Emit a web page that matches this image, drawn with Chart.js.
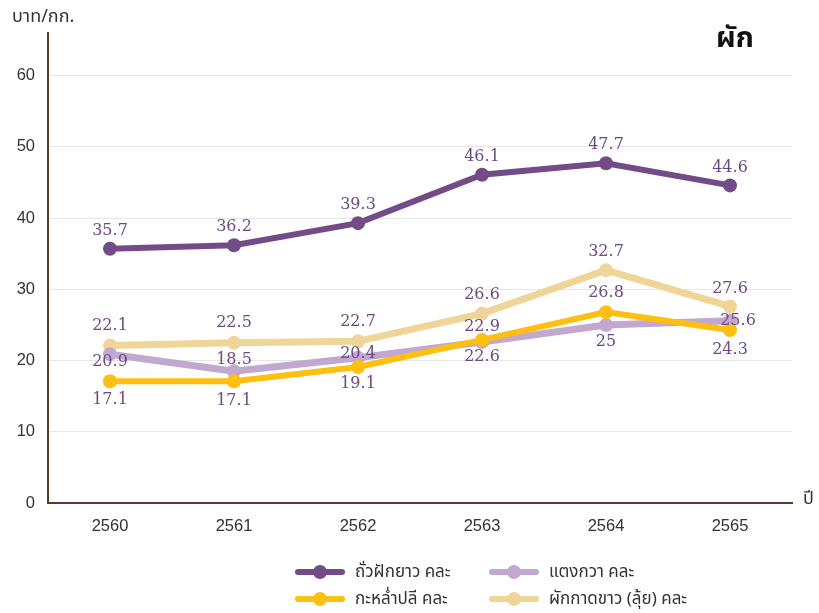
<!DOCTYPE html>
<html lang="th">
<head>
<meta charset="utf-8">
<title>ราคาผัก</title>
<script src="https://cdn.jsdelivr.net/npm/chart.js@4.4.1/dist/chart.umd.min.js"></script>
<style>
  html, body { margin: 0; padding: 0; background: #fff; }
  #wrap {
    position: relative;
    width: 819px;
    height: 613px;
    font-family: "Noto Sans Thai", "Noto Sans", sans-serif;
    color: #333;
  }
  #chart { position: absolute; left: 0; top: 0; }
  .txt { position: absolute; white-space: nowrap; line-height: 1; }
  #unit { left: 12px; top: 8px; font-size: 18px; }
  #title { left: 716px; top: 24px; font-size: 29px; font-weight: bold; color: #111; }
  #xname { left: 803px; top: 490px; font-size: 18px; }
  .item {
    position: absolute;
    display: flex;
    align-items: center;
    height: 20px;
    font-size: 17px;
    white-space: nowrap;
  }
  .swatch { position: relative; width: 50px; height: 14px; margin-right: 10px; }
  .swatch .bar {
    position: absolute; left: 0; top: 4px; width: 50px; height: 6px;
    border-radius: 3px;
  }
  .swatch .dot {
    position: absolute; left: 18px; top: 0; width: 14px; height: 14px;
    border-radius: 50%;
  }
</style>
</head>
<body>
<div id="wrap">
  <canvas id="chart" width="819" height="613"></canvas>
  <div class="txt" id="unit">บาท/กก.</div>
  <div class="txt" id="title">ผัก</div>
  <div class="txt" id="xname">ปี</div>
  <div id="legend"></div>
</div>

<script>
// ราคาผักเฉลี่ยรายปี (บาท/กก.)
const years = ['2560', '2561', '2562', '2563', '2564', '2565'];
const yardLongBean = [35.7, 36.2, 39.3, 46.1, 47.7, 44.6];
const cucumber = [20.9, 18.5, 20.4, 22.6, 25, 25.6];
const cabbage = [17.1, 17.1, 19.1, 22.9, 26.8, 24.3];
const chineseCabbage = [22.1, 22.5, 22.7, 26.6, 32.7, 27.6];
const yTicks = [0, 10, 20, 30, 40, 50, 60];

const LABEL_COLOR = '#6c4a84';
const AXIS_COLOR = '#5b3a2e';

function lineSet(label, data, color, width, labelDy, labelDx) {
    return {
        label: label,
        data: data,
        borderColor: color,
        backgroundColor: color,
        borderWidth: width,
        pointRadius: 7,
        pointHoverRadius: 7,
        pointBorderWidth: 0,
        pointBackgroundColor: color,
        tension: 0,
        labelDy: labelDy,
        labelDx: labelDx || [0, 0, 0, 0, 0, 0]
    };
}

// dataset 0 is drawn on top
const datasets = [
    lineSet('ถั่วฝักยาว คละ', yardLongBean, '#734b87', 6, [-18, -18, -18, -18, -18, -18]),
    lineSet('กะหล่ำปลี คละ', cabbage, '#fcbf12', 6, [19, 20, 17, -13, -19, 20]),
    lineSet('แตงกวา คละ', cucumber, '#c2a8cf', 7, [8, -11, -4, 15, 17, 0], [0, 0, 0, 0, 0, 8]),
    lineSet('ผักกาดขาว (ลุ้ย) คละ', chineseCabbage, '#efd597', 7, [-20, -20, -20, -19, -18, -18])
];

// value text next to every point
const valueLabels = {
    id: 'valueLabels',
    afterDatasetsDraw(chart) {
        const ctx = chart.ctx;
        ctx.save();
        ctx.font = '16px "DejaVu Serif", serif';
        ctx.fillStyle = LABEL_COLOR;
        ctx.textAlign = 'center';
        ctx.textBaseline = 'middle';
        chart.data.datasets.forEach((ds, i) => {
            chart.getDatasetMeta(i).data.forEach((pt, j) => {
                ctx.fillText(String(ds.data[j]), pt.x + ds.labelDx[j], pt.y + ds.labelDy[j]);
            });
        });
        ctx.restore();
    }
};

new Chart(document.getElementById('chart'), {
    type: 'line',
    data: { labels: years, datasets: datasets },
    options: {
        responsive: false,
        animation: false,
        layout: { padding: { left: 0, right: 27, top: 33, bottom: 0 } },
        plugins: {
            legend: { display: false },
            tooltip: { enabled: false }
        },
        scales: {
            x: {
                offset: true,
                grid: { display: false, drawTicks: false },
                border: { color: AXIS_COLOR, width: 2 },
                ticks: {
                    padding: 14,
                    color: '#333',
                    font: { family: '"Liberation Sans", sans-serif', size: 16.5 }
                },
                afterFit(scale) { scale.height = 110; }
            },
            y: {
                min: 0,
                max: 66,
                grid: { color: '#e6e6e6', lineWidth: 1, drawTicks: false },
                border: { color: AXIS_COLOR, width: 2 },
                ticks: {
                    padding: 13,
                    color: '#333',
                    font: { family: '"Liberation Sans", sans-serif', size: 16.5 }
                },
                afterBuildTicks(scale) {
                    scale.ticks = yTicks.map(v => ({ value: v }));
                },
                afterFit(scale) { scale.width = 48; }
            }
        }
    },
    plugins: [valueLabels]
});

// legend: two columns, line with a dot
const legendSpots = [
    { name: 'ถั่วฝักยาว คละ', left: 295, top: 562 },
    { name: 'แตงกวา คละ', left: 489, top: 562 },
    { name: 'กะหล่ำปลี คละ', left: 295, top: 589 },
    { name: 'ผักกาดขาว (ลุ้ย) คละ', left: 489, top: 589 }
];
const legendBox = document.getElementById('legend');
legendSpots.forEach(spot => {
    const ds = datasets.find(d => d.label === spot.name);
    const item = document.createElement('div');
    item.className = 'item';
    item.style.left = spot.left + 'px';
    item.style.top = spot.top + 'px';
    item.innerHTML = `<span class="swatch"><span class="bar" style="background:${ds.borderColor}"></span>` +
        `<span class="dot" style="background:${ds.borderColor}"></span></span>${ds.label}`;
    legendBox.appendChild(item);
});
</script>
</body>
</html>
